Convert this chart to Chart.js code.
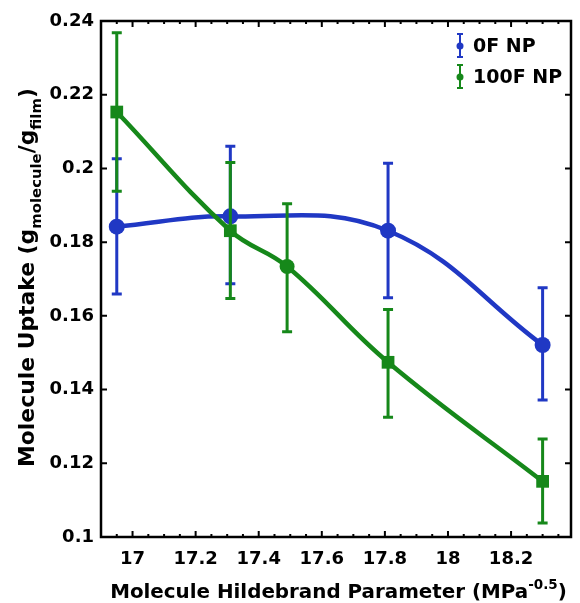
<!DOCTYPE html>
<html>
<head>
<meta charset="utf-8">
<script src="https://cdn.jsdelivr.net/npm/chart.js@4.4.1/dist/chart.umd.min.js"></script>
<style>
  html, body { margin: 0; padding: 0; background: #fff; }
  #wrap { width: 580px; height: 603px; }
</style>
</head>
<body>
<div id="wrap"><canvas id="uptakeChart" width="580" height="603"></canvas></div>
<script>
// data
const xBlue = [16.95, 17.31, 17.81, 18.30];
const blueVals = [0.1842, 0.1870, 0.1831, 0.1521];
const blueHi = [0.2026, 0.2060, 0.2014, 0.1676];
const blueLo = [0.1659, 0.1687, 0.1649, 0.1372];

const xGreen = [16.95, 17.31, 17.49, 17.81, 18.30];
const greenVals = [0.2153, 0.1831, 0.1734, 0.1474, 0.1151];
const greenHi = [0.2368, 0.2016, 0.1904, 0.1617, 0.1266];
const greenLo = [0.1938, 0.1647, 0.1557, 0.1325, 0.1038];
const greenMarkers = ['rect', 'rect', 'circle', 'rect', 'rect'];
const greenSizes = [9, 9, 7.5, 9, 9];

const xTicks = [17, 17.2, 17.4, 17.6, 17.8, 18, 18.2];
const xMinorTicks = [16.95, 17.05, 17.1, 17.15, 17.25, 17.3, 17.35, 17.45, 17.5, 17.55,
    17.65, 17.7, 17.75, 17.85, 17.9, 17.95, 18.05, 18.1, 18.15, 18.25, 18.3, 18.35];
const yTicks = [0.1, 0.12, 0.14, 0.16, 0.18, 0.2, 0.22, 0.24];

const seriesNames = ['0F NP', '100F NP'];
const BLUE = '#2038c4';
const GREEN = '#16881a';
const FONT = '"DejaVu Sans", "Liberation Sans", sans-serif';

const errorData = {
    0: { xs: xGreen, hi: greenHi, lo: greenLo, color: GREEN },
    1: { xs: xBlue, hi: blueHi, lo: blueLo, color: BLUE }
};

// error bars, drawn just under each dataset
const errorBarPlugin = {
    id: 'errorBars',
    beforeDatasetDraw(chart, args) {
        const e = errorData[args.index];
        if (!e) return;
        const ctx = chart.ctx;
        const xs = chart.scales.x, ys = chart.scales.y;
        ctx.save();
        ctx.strokeStyle = e.color;
        ctx.lineWidth = 3;
        e.xs.forEach((xv, i) => {
            const px = xs.getPixelForValue(xv);
            const top = ys.getPixelForValue(e.hi[i]);
            const bot = ys.getPixelForValue(e.lo[i]);
            ctx.beginPath();
            ctx.moveTo(px, top); ctx.lineTo(px, bot);
            ctx.moveTo(px - 5, top); ctx.lineTo(px + 5, top);
            ctx.moveTo(px - 5, bot); ctx.lineTo(px + 5, bot);
            ctx.stroke();
        });
        ctx.restore();
    }
};

// draws a run of text pieces (normal / sub / sup) starting at x along baseline y
function drawRich(ctx, parts, size, x, y, measureOnly) {
    let cx = x;
    parts.forEach(p => {
        const s = p.kind ? size * 0.68 : size;
        ctx.font = 'bold ' + s + 'px ' + FONT;
        let dy = 0;
        if (p.kind === 'sub') dy = size * 0.3;
        if (p.kind === 'sup') dy = -size * 0.45;
        if (!measureOnly) ctx.fillText(p.t, cx, y + dy);
        cx += ctx.measureText(p.t).width;
    });
    return cx - x;
}

const framePlugin = {
    id: 'frame',
    afterDraw(chart) {
        const ctx = chart.ctx;
        const a = chart.chartArea;
        const xs = chart.scales.x, ys = chart.scales.y;
        ctx.save();
        ctx.strokeStyle = '#000';
        ctx.lineWidth = 2.5;
        ctx.strokeRect(a.left, a.top, a.right - a.left, a.bottom - a.top);

        // inward ticks
        ctx.lineWidth = 2;
        ctx.beginPath();
        xTicks.forEach(v => {
            const px = xs.getPixelForValue(v);
            ctx.moveTo(px, a.bottom); ctx.lineTo(px, a.bottom - 6);
            ctx.moveTo(px, a.top); ctx.lineTo(px, a.top + 6);
        });
        xMinorTicks.forEach(v => {
            const px = xs.getPixelForValue(v);
            ctx.moveTo(px, a.bottom); ctx.lineTo(px, a.bottom - 3);
            ctx.moveTo(px, a.top); ctx.lineTo(px, a.top + 3);
        });
        yTicks.forEach(v => {
            const py = ys.getPixelForValue(v);
            ctx.moveTo(a.left, py); ctx.lineTo(a.left + 6, py);
            ctx.moveTo(a.right, py); ctx.lineTo(a.right - 6, py);
        });
        ctx.stroke();

        // axis titles
        ctx.fillStyle = '#000';
        ctx.textBaseline = 'alphabetic';
        ctx.textAlign = 'left';
        const xParts = [
            { t: 'Molecule Hildebrand Parameter (MPa' },
            { t: '-0.5', kind: 'sup' },
            { t: ')' }
        ];
        let w = drawRich(ctx, xParts, 19, 0, 0, true);
        let size = 19 * 457 / w;
        w = drawRich(ctx, xParts, size, 0, 0, true);
        drawRich(ctx, xParts, size, 338.5 - w / 2, 598);

        const yParts = [
            { t: 'Molecule Uptake (g' },
            { t: 'molecule', kind: 'sub' },
            { t: '/g' },
            { t: 'film', kind: 'sub' },
            { t: ')' }
        ];
        w = drawRich(ctx, yParts, 19, 0, 0, true);
        size = 19 * 379 / w;
        w = drawRich(ctx, yParts, size, 0, 0, true);
        ctx.save();
        ctx.translate(34, 277.5);
        ctx.rotate(-Math.PI / 2);
        drawRich(ctx, yParts, size, -w / 2, 0);
        ctx.restore();

        // legend with error-bar symbols
        const legendRows = [
            { name: seriesNames[0], color: BLUE, y: 46 },
            { name: seriesNames[1], color: GREEN, y: 77 }
        ];
        ctx.font = 'bold 19px ' + FONT;
        ctx.textBaseline = 'middle';
        legendRows.forEach(r => {
            ctx.strokeStyle = r.color;
            ctx.fillStyle = r.color;
            ctx.lineWidth = 2;
            ctx.beginPath();
            ctx.moveTo(460, r.y - 12); ctx.lineTo(460, r.y + 11);
            ctx.moveTo(457, r.y - 12); ctx.lineTo(463, r.y - 12);
            ctx.moveTo(457, r.y + 11); ctx.lineTo(463, r.y + 11);
            ctx.stroke();
            ctx.beginPath();
            ctx.arc(460, r.y, 3.5, 0, Math.PI * 2);
            ctx.fill();
            ctx.fillStyle = '#000';
            ctx.fillText(r.name, 473, r.y + 1);
        });
        ctx.restore();
    }
};

const fmt = v => String(Math.round(v * 100) / 100);

const ctx = document.getElementById('uptakeChart').getContext('2d');
new Chart(ctx, {
    type: 'scatter',
    data: {
        datasets: [
            {
                label: seriesNames[1],
                data: xGreen.map((x, i) => ({ x: x, y: greenVals[i] })),
                showLine: true,
                borderColor: GREEN,
                backgroundColor: GREEN,
                borderWidth: 4.5,
                tension: 0.4,
                pointStyle: greenMarkers,
                pointRadius: greenSizes,
                pointBorderWidth: 0,
                order: 0
            },
            {
                label: seriesNames[0],
                data: xBlue.map((x, i) => ({ x: x, y: blueVals[i] })),
                showLine: true,
                borderColor: BLUE,
                backgroundColor: BLUE,
                borderWidth: 4.5,
                tension: 0.4,
                pointStyle: 'circle',
                pointRadius: 8,
                pointBorderWidth: 0,
                order: 1
            }
        ]
    },
    options: {
        responsive: false,
        animation: false,
        devicePixelRatio: 1,
        layout: { padding: { left: 0, right: 3, top: 21, bottom: 0 } },
        plugins: {
            legend: { display: false },
            tooltip: { enabled: false }
        },
        scales: {
            x: {
                type: 'linear',
                min: 16.9,
                max: 18.39,
                grid: { display: false, drawTicks: false },
                border: { display: false },
                afterBuildTicks: s => { s.ticks = xTicks.map(v => ({ value: v })); },
                afterFit: s => { s.height = 66; },
                ticks: {
                    padding: 12,
                    color: '#000',
                    font: { family: FONT, size: 18, weight: 'bold' },
                    callback: v => fmt(v)
                }
            },
            y: {
                type: 'linear',
                min: 0.1,
                max: 0.24,
                grid: { display: false, drawTicks: false },
                border: { display: false },
                afterBuildTicks: s => { s.ticks = yTicks.map(v => ({ value: v })); },
                afterFit: s => { s.width = 101; },
                ticks: {
                    padding: 7,
                    color: '#000',
                    font: { family: FONT, size: 18, weight: 'bold' },
                    callback: v => fmt(v)
                }
            }
        }
    },
    plugins: [errorBarPlugin, framePlugin]
});
</script>
</body>
</html>
